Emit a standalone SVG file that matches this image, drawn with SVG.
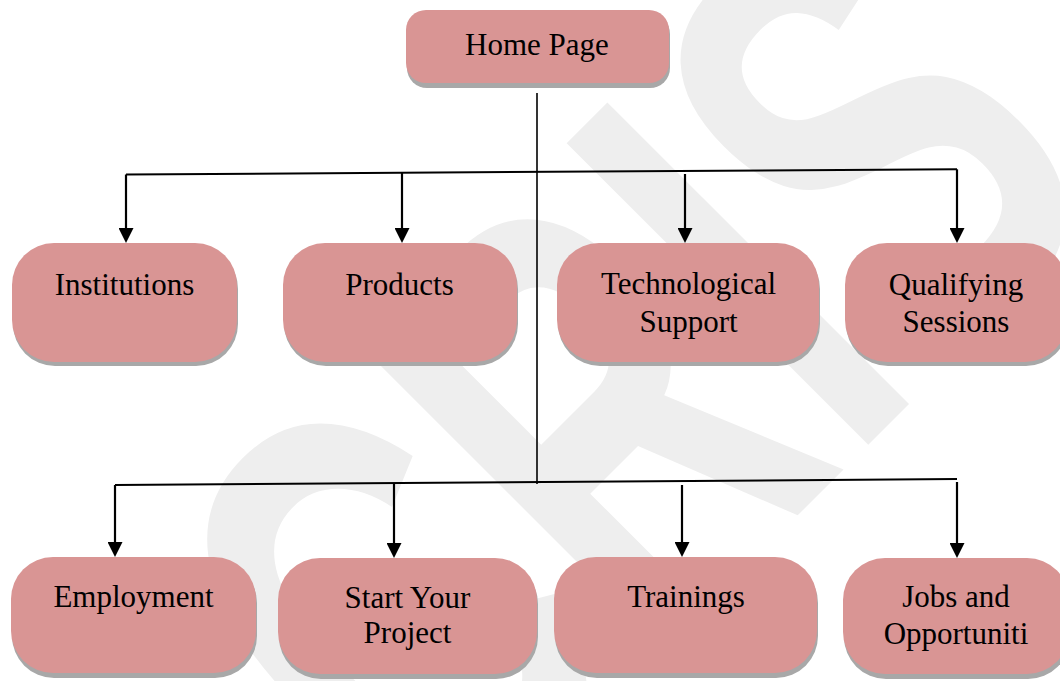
<svg xmlns="http://www.w3.org/2000/svg" width="1060" height="681" viewBox="0 0 1060 681">
  <defs>
    <marker id="arrow" markerUnits="userSpaceOnUse" markerWidth="15" markerHeight="15" viewBox="0 0 15 15" refX="8" refY="7.5" orient="auto">
      <path d="M0,0 L15,7.5 L0,15 z" fill="#000"/>
    </marker>
  </defs>
  <style>
    .box { fill: #d99594; }
    .shadow { fill: #a8a8a8; }
    .label { font-family: "Liberation Serif", "Times New Roman", serif; font-size: 31px; fill: #000; text-anchor: middle; }
    .line { stroke: #000; stroke-width: 2; fill: none; }
    .trunk { stroke: #000; stroke-width: 1.6; fill: none; }
    .arr { stroke: #000; stroke-width: 2.2; fill: none; marker-end: url(#arrow); }
    .wm { font-family: "Liberation Sans", Arial, sans-serif; font-weight: bold; font-size: 400px; fill: #eeeeee; }
  </style>
  <rect x="0" y="0" width="1060" height="681" fill="#ffffff"/>
  <g id="watermark">
    <text class="wm" x="-305" y="599" transform="rotate(-45) scale(1,1.55)">CRIS</text>
  </g>

  <g id="connectors">
    <line class="trunk" x1="537" y1="93" x2="537" y2="484"/>
    <path class="line" d="M126,174.5 L957,169.3"/>
    <line class="arr" x1="126" y1="174.5" x2="126" y2="236"/>
    <line class="arr" x1="402" y1="172.8" x2="402" y2="236"/>
    <line class="arr" x1="685" y1="174" x2="685" y2="236"/>
    <line class="arr" x1="957" y1="169.3" x2="957" y2="236"/>
    <path class="line" d="M115,485 L957,479"/>
    <line class="arr" x1="115" y1="485" x2="115" y2="550"/>
    <line class="arr" x1="394" y1="483" x2="394" y2="551"/>
    <line class="arr" x1="682" y1="485" x2="682" y2="550"/>
    <line class="arr" x1="957" y1="482" x2="957" y2="551"/>
  </g>

  <g id="home">
    <rect class="shadow" x="407" y="14" width="263" height="74" rx="20"/>
    <rect class="box" x="406" y="10" width="263" height="73" rx="20"/>
    <text class="label" x="537" y="55">Home Page</text>
  </g>

  <g id="institutions">
    <rect class="shadow" x="13" y="247" width="225" height="119" rx="42"/>
    <rect class="box" x="12" y="243" width="225" height="119" rx="42"/>
    <text class="label" x="124.5" y="295">Institutions</text>
  </g>

  <g id="products">
    <rect class="shadow" x="284" y="247" width="234" height="119" rx="42"/>
    <rect class="box" x="283" y="243" width="234" height="119" rx="42"/>
    <text class="label" x="399.5" y="295">Products</text>
  </g>

  <g id="tech">
    <rect class="shadow" x="558" y="247" width="262" height="119" rx="42"/>
    <rect class="box" x="557" y="243" width="262" height="119" rx="42"/>
    <text class="label" x="688.5" y="294">Technological</text>
    <text class="label" x="688.5" y="332">Support</text>
  </g>

  <g id="qualifying">
    <rect class="shadow" x="846" y="247" width="222" height="119" rx="42"/>
    <rect class="box" x="845" y="243" width="222" height="119" rx="42"/>
    <text class="label" x="956" y="295">Qualifying</text>
    <text class="label" x="956" y="332">Sessions</text>
  </g>

  <g id="employment">
    <rect class="shadow" x="12" y="561" width="245" height="117" rx="42"/>
    <rect class="box" x="11" y="557" width="245" height="116" rx="42"/>
    <text class="label" x="133.5" y="607">Employment</text>
  </g>

  <g id="start">
    <rect class="shadow" x="279" y="562" width="259" height="117" rx="42"/>
    <rect class="box" x="278" y="558" width="259" height="116" rx="42"/>
    <text class="label" x="407.5" y="608">Start Your</text>
    <text class="label" x="407.5" y="643">Project</text>
  </g>

  <g id="trainings">
    <rect class="shadow" x="555" y="561" width="263" height="117" rx="42"/>
    <rect class="box" x="554" y="557" width="263" height="116" rx="42"/>
    <text class="label" x="686" y="607">Trainings</text>
  </g>

  <g id="jobs">
    <rect class="shadow" x="844" y="562" width="226" height="117" rx="42"/>
    <rect class="box" x="843" y="558" width="226" height="116" rx="42"/>
    <text class="label" x="956" y="607">Jobs and</text>
    <text class="label" x="956" y="644">Opportuniti</text>
  </g>
</svg>
